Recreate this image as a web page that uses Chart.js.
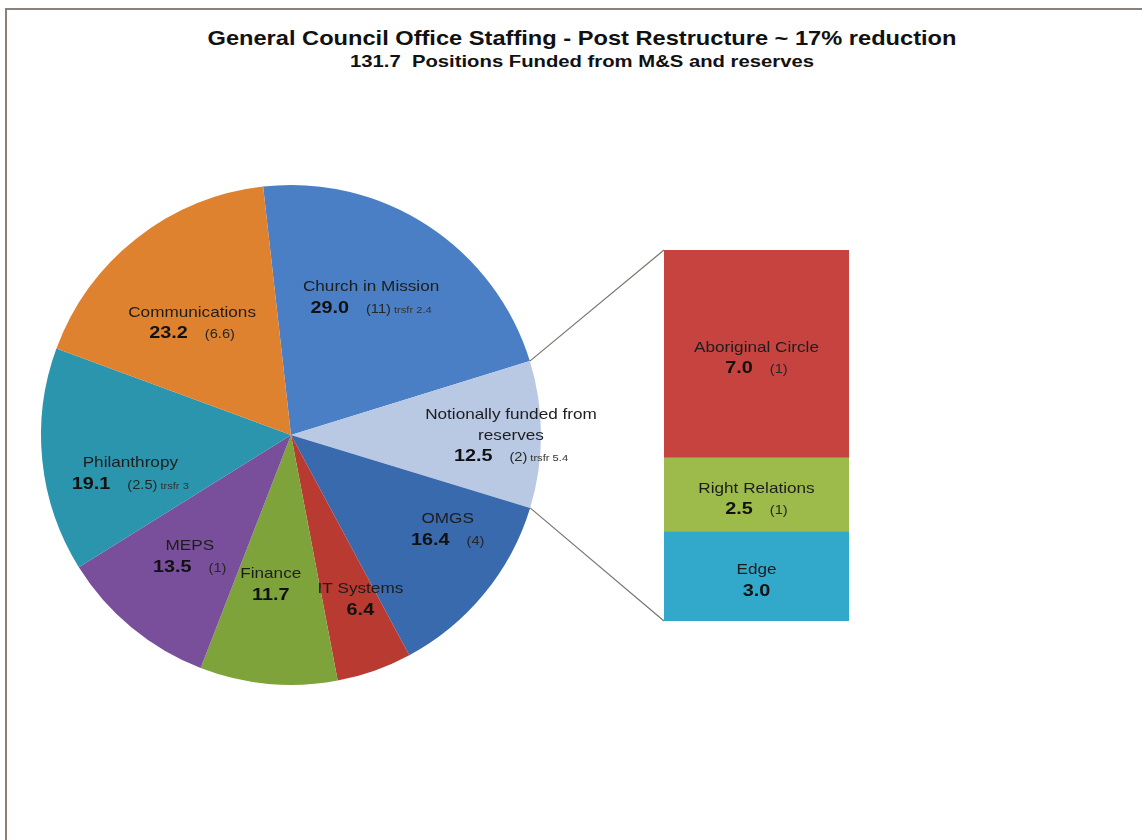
<!DOCTYPE html>
<html>
<head>
<meta charset="UTF-8">
<title>General Council Office Staffing</title>
<script src="https://cdn.jsdelivr.net/npm/chart.js"></script>
<style>
  body { margin: 0; background: #fff; font-family: 'Liberation Sans', Arial, sans-serif; }
  .frame { position: relative; width: 1142px; height: 840px; overflow: hidden; }
  .edge { position: absolute; left: 5px; top: 8px; right: 0; bottom: 0; border-top: 2px solid #8a807c; border-left: 2px solid #8a807c; }
  .heading { position: absolute; left: 11px; width: 1142px; margin: 0; text-align: center; font-weight: bold; color: #111; white-space: nowrap; transform: scaleX(1.2); }
  h1.heading { top: 25px; font-size: 19.7px; line-height: 26px; }
  h2.heading { top: 51px; font-size: 16.9px; line-height: 22px; }
  canvas { position: absolute; left: 0; top: 0; }
</style>
</head>
<body>
<div class="frame">
  <div class="edge"></div>
  <h1 class="heading">General Council Office Staffing - Post Restructure ~ 17% reduction</h1>
  <h2 class="heading">131.7&nbsp; Positions Funded from M&amp;S and reserves</h2>
  <canvas id="pie" width="1142" height="840"></canvas>
  <canvas id="bar" width="1142" height="840"></canvas>
</div>
<script>
// pie slices, clockwise from the top
const sliceNames = ['Church in Mission', ['Notionally funded from', 'reserves'], 'OMGS', 'IT Systems', 'Finance', 'MEPS', 'Philanthropy', 'Communications'];
const sliceValues = [29.0, 12.5, 16.4, 6.4, 11.7, 13.5, 19.1, 23.2];
const sliceCuts = [11, 2, 4, null, null, 1, 2.5, 6.6];
const sliceTransfers = [2.4, 5.4, null, null, null, null, 3, null];
const sliceColors = ['#4a7fc5', '#b9c9e4', '#3a6aae', '#b83a30', '#7ea33b', '#794f9b', '#2b95ae', '#df822f'];

// breakdown of the reserves slice, top to bottom
const barNames = ['Aboriginal Circle', 'Right Relations', 'Edge'];
const barValues = [7.0, 2.5, 3.0];
const barCuts = [1, 1, null];
const barColors = ['#c6433f', '#9cbb4a', '#32a9cb'];

// label spot inside each slice: [share of the sweep, share of the radius]
const labelSpots = [[0.46, 0.64], [0.5, 0.88], [0.31, 0.73], [0.3, 0.71], [0.58, 0.6], [0.51, 0.63], [0.36, 0.66], [0.45, 0.6]];

const FONT = "'Liberation Sans', Arial, sans-serif";
const STRETCH = 1.2;
const NAME_SIZE = 14.3, VALUE_SIZE = 16.5, CUT_SIZE = 12.2, TRSFR_SIZE = 9.3;

function setFont(ctx, size, bold) {
  ctx.font = (bold ? 'bold ' : '') + size + 'px ' + FONT;
}
function textWidth(ctx, text, size, bold) {
  setFont(ctx, size, bold);
  return ctx.measureText(text).width * STRETCH;
}
function wideText(ctx, text, x, y, size, bold, color) {
  ctx.save();
  setFont(ctx, size, bold);
  ctx.fillStyle = color;
  ctx.textAlign = 'left';
  ctx.textBaseline = 'alphabetic';
  ctx.translate(x, y);
  ctx.scale(STRETCH, 1);
  ctx.fillText(text, 0, 0);
  ctx.restore();
}

// name line(s) over a "value (cut) trsfr n" line, centred on cx, cy
function drawBlock(ctx, cx, cy, name, value, cut, transfer) {
  const lines = [].concat(name);
  const lineH = 20.5;
  let y = cy - lines.length * lineH / 2;
  lines.forEach(line => {
    const w = textWidth(ctx, line, NAME_SIZE, false);
    wideText(ctx, line, cx - w / 2, y + 5, NAME_SIZE, false, '#1d1d1d');
    y += lineH;
  });
  const parts = [{ t: value.toFixed(1), s: VALUE_SIZE, b: true, c: '#111', gap: 0 }];
  if (cut != null) parts.push({ t: '(' + cut + ')', s: CUT_SIZE, b: false, c: '#262626', gap: 17 });
  if (transfer != null) parts.push({ t: 'trsfr ' + transfer, s: TRSFR_SIZE, b: false, c: '#333', gap: 3 });
  let total = 0;
  parts.forEach(p => { p.w = textWidth(ctx, p.t, p.s, p.b); total += p.gap + p.w; });
  let x = cx - total / 2;
  parts.forEach(p => {
    x += p.gap;
    wideText(ctx, p.t, x, y + 6, p.s, p.b, p.c);
    x += p.w;
  });
}

const sliceLabels = {
  id: 'sliceLabels',
  afterDatasetsDraw(chart) {
    const ctx = chart.ctx;
    chart.getDatasetMeta(0).data.forEach((arc, i) => {
      const [along, out] = labelSpots[i];
      const a = arc.startAngle + (arc.endAngle - arc.startAngle) * along;
      const r = arc.outerRadius * out;
      drawBlock(ctx, arc.x + Math.cos(a) * r, arc.y + Math.sin(a) * r,
        sliceNames[i], sliceValues[i], sliceCuts[i], sliceTransfers[i]);
    });
  }
};

const pieChart = new Chart(document.getElementById('pie'), {
  type: 'pie',
  data: {
    labels: sliceNames.map(n => [].concat(n).join(' ')),
    datasets: [{ data: sliceValues, backgroundColor: sliceColors, borderWidth: 0 }]
  },
  options: {
    responsive: false,
    animation: false,
    events: [],
    rotation: -6.4,
    layout: { padding: { left: 41, right: 601, top: 185, bottom: 155 } },
    plugins: { legend: { display: false }, tooltip: { enabled: false } }
  },
  plugins: [sliceLabels]
});

// stacked datasets build from the bottom, so Edge goes first
const barIndex = i => barNames.length - 1 - i;

const barLabels = {
  id: 'barLabels',
  afterDatasetsDraw(chart) {
    const ctx = chart.ctx;
    barNames.forEach((name, i) => {
      const bar = chart.getDatasetMeta(barIndex(i)).data[0];
      const mid = (bar.y + bar.base) / 2;
      drawBlock(ctx, bar.x, mid + 3, name, barValues[i], barCuts[i], null);
    });
  }
};

// lines from the reserves slice edges out to the corners of the bar
const connectors = {
  id: 'connectors',
  afterDatasetsDraw(chart) {
    const arc = pieChart.getDatasetMeta(0).data[1];
    const top = chart.getDatasetMeta(barIndex(0)).data[0];
    const bottom = chart.getDatasetMeta(barIndex(barNames.length - 1)).data[0];
    const left = top.x - top.width / 2;
    const ctx = chart.ctx;
    ctx.save();
    ctx.strokeStyle = '#7d726e';
    ctx.lineWidth = 1.2;
    ctx.beginPath();
    ctx.moveTo(arc.x + Math.cos(arc.startAngle) * arc.outerRadius, arc.y + Math.sin(arc.startAngle) * arc.outerRadius);
    ctx.lineTo(left, top.y);
    ctx.moveTo(arc.x + Math.cos(arc.endAngle) * arc.outerRadius, arc.y + Math.sin(arc.endAngle) * arc.outerRadius);
    ctx.lineTo(left, bottom.base);
    ctx.stroke();
    ctx.restore();
  }
};

const barTotal = barValues.reduce((a, b) => a + b, 0);

new Chart(document.getElementById('bar'), {
  type: 'bar',
  data: {
    labels: ['Notionally funded from reserves'],
    datasets: barNames.map((name, i) => ({
      label: name,
      data: [barValues[i]],
      backgroundColor: barColors[i],
      borderWidth: 0,
      barPercentage: 1,
      categoryPercentage: 1
    })).reverse()
  },
  options: {
    responsive: false,
    animation: false,
    events: [],
    layout: { padding: { left: 664, right: 293, top: 250, bottom: 219 } },
    scales: {
      x: { display: false, stacked: true },
      y: { display: false, stacked: true, min: 0, max: barTotal }
    },
    plugins: { legend: { display: false }, tooltip: { enabled: false } }
  },
  plugins: [barLabels, connectors]
});
</script>
</body>
</html>
